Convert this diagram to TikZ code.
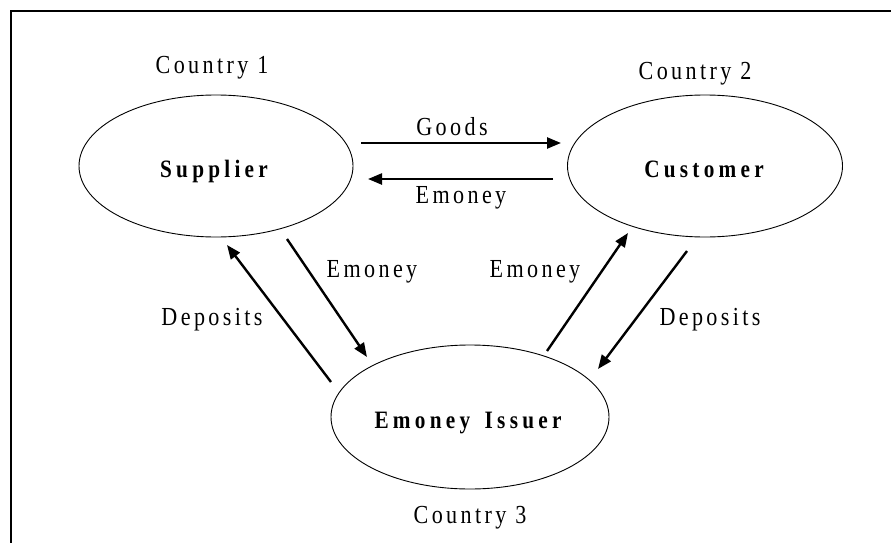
\documentclass[tikz,border=0pt]{standalone}
\usepackage{fontspec}
\setmainfont{Liberation Serif}
\newfontfamily\labfont[FakeStretch=0.85,LetterSpace=13]{Liberation Serif}
\newfontfamily\blabfont[FakeStretch=0.85,LetterSpace=17]{Liberation Serif}
\usetikzlibrary{shapes.geometric,arrows.meta,calc}
\begin{document}
\begin{tikzpicture}[x=1pt,y=-1pt,
  blob/.style={draw,ellipse,line width=0.9pt,inner sep=0pt},
  lab/.style={font=\labfont\fontsize{26}{26}\selectfont,anchor=base,inner sep=0pt},
  blab/.style={font=\blabfont\bfseries\fontsize{25}{25}\selectfont,anchor=base,inner sep=0pt},
  flow/.style={line width=2.4pt,-{Triangle[length=14pt,width=11pt]}}]
\useasboundingbox (0,0) rectangle (891,543);
\draw[line width=2.5pt] (891,11) -- (11,11) -- (11,543);
\node[blob,minimum width=274pt,minimum height=142pt] (sup) at (216,166) {};
\node[blob,minimum width=275pt,minimum height=142pt] (cus) at (705,166) {};
\node[blob,minimum width=278pt,minimum height=144pt] (iss) at (470,417) {};
\node[blab] (tsup) at (214,177) {Supplier};
\node[blab] (tcus) at (704,177) {Customer};
\node[blab] (tiss) at (468,428) {Emoney\hspace{5pt} Issuer};
\node[lab] (c1) at (212,74) {Country 1};
\node[lab] (c2) at (695,80) {Country 2};
\node[lab] (c3) at (470,523) {Country 3};
\node[lab] (lgoods) at (452,135) {Goods};
\node[lab] (lem1) at (461,203) {Emoney};
\node[lab] (lem2) at (372,277) {Emoney};
\node[lab] (lem3) at (535,277) {Emoney};
\node[lab] (ldep1) at (212,325) {Deposits};
\node[lab] (ldep2) at (710,325) {Deposits};
\draw[flow] ($(sup.center)+(145,-23)$) -- ($(cus.center)+(-144,-23)$);
\draw[flow] ($(cus.center)+(-152,13)$) -- ($(sup.center)+(152,13)$);
\draw[flow] ($(sup.center)+(71,73)$) -- ($(iss.center)+(-103,-60)$);
\draw[flow] ($(iss.center)+(-139,-35)$) -- ($(sup.center)+(11,79)$);
\draw[flow] ($(iss.center)+(77,-66)$) -- ($(cus.center)+(-77,67)$);
\draw[flow] ($(cus.center)+(-18,85)$) -- ($(iss.center)+(128,-48)$);
\end{tikzpicture}
\end{document}
